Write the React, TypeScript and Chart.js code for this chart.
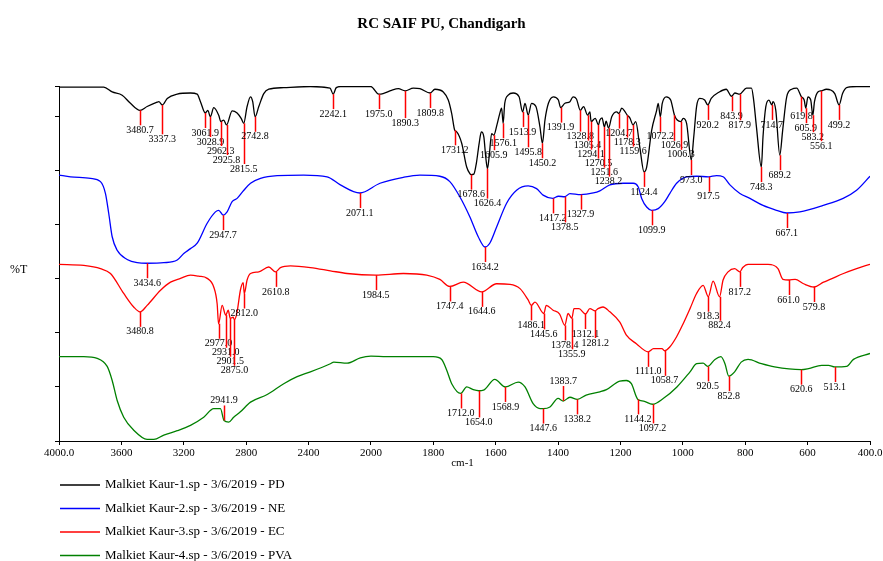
import React, { useEffect, useRef } from 'react';
import { Chart, registerables } from 'chart.js';

Chart.register(...registerables);

const TITLE = 'RC SAIF PU, Chandigarh';
const X_TITLE = 'cm-1';
const Y_TITLE = '%T';

const seriesNames = [
  'Malkiet Kaur-1.sp - 3/6/2019 - PD',
  'Malkiet Kaur-2.sp - 3/6/2019 - NE',
  'Malkiet Kaur-3.sp - 3/6/2019 - EC',
  'Malkiet Kaur-4.sp - 3/6/2019 - PVA',
];
const seriesColors = ['#000000', '#0000ff', '#ff0000', '#008000'];

// [wavenumber cm-1, %T]
const pdSpectrum: [number, number][] = [
  [4000, 65.5], [3713, 65.5], [3659, 64.6], [3595, 64.0], [3542, 62.5], [3480.7, 61.2], [3435, 61.9],
  [3371, 62.7], [3360, 62.8], [3337.3, 62.2], [3306, 63.4], [3242, 64.2], [3157, 64.4], [3114, 64.2],
  [3093, 62.8], [3061.9, 60.7], [3046, 61.2], [3028.9, 60.0], [3008, 61.7], [2976, 60.3], [2962.3, 59.1],
  [2944, 59.4], [2925.8, 58.5], [2890, 61.1], [2858, 60.7], [2832, 59.7], [2815.5, 58.8], [2794, 61.9],
  [2772, 63.7], [2758, 62.8], [2742.8, 60.0], [2719, 61.9], [2687, 64.3], [2655, 65.1], [2559, 65.4],
  [2388, 65.6], [2262, 65.3], [2242.1, 64.2], [2222, 65.4], [2196, 65.6], [2000, 65.6], [1993, 65.3],
  [1975.0, 64.2], [1961, 64.3], [1934, 64.9], [1912, 65.2], [1890.3, 64.8], [1864, 65.3], [1843, 65.2],
  [1809.8, 64.4], [1795, 65.1], [1768, 64.6], [1752, 63.1], [1741, 60.6], [1731.2, 57.5], [1725, 57.2],
  [1709, 55.1], [1693, 50.7], [1683, 49.5], [1678.6, 49.3], [1670, 49.4], [1662, 51.4], [1653, 55.1],
  [1646, 57.2], [1638, 56.3], [1632, 52.6], [1626.4, 50.4], [1621, 52.6], [1613, 56.9], [1605.9, 56.6],
  [1596, 58.5], [1587, 60.6], [1581, 61.6], [1576.1, 58.8], [1571, 62.5], [1560, 64.0], [1544, 64.4],
  [1525, 63.7], [1513.9, 60.9], [1506, 62.5], [1495.8, 60.3], [1485, 62.5], [1471, 61.9], [1458, 58.1],
  [1450.2, 55.1], [1442, 59.4], [1431, 62.5], [1415, 63.7], [1399, 63.1], [1391.9, 61.7], [1378, 62.5],
  [1362, 62.8], [1352, 63.7], [1341, 63.3], [1328.8, 61.2], [1318, 61.9], [1305.4, 60.3], [1298, 60.9],
  [1294.1, 59.1], [1281, 59.7], [1270.5, 58.5], [1266, 59.4], [1259, 59.8], [1251.6, 58.1], [1246, 59.2],
  [1238.2, 57.9], [1228, 60.0], [1212, 60.9], [1204.7, 60.6], [1196, 61.6], [1185, 60.9], [1178.3, 60.3],
  [1170, 59.8], [1159.6, 58.5], [1151, 59.1], [1138, 54.4], [1124.4, 49.8], [1116, 50.7], [1100, 57.5],
  [1084, 61.2], [1079, 62.5], [1072.2, 60.0], [1066, 62.5], [1053, 63.7], [1039, 63.1], [1026.9, 60.3],
  [1018, 59.4], [1006.3, 59.1], [999, 59.7], [988, 58.8], [973.0, 52.0], [965, 56.3], [956, 61.9],
  [946, 63.4], [930, 63.1], [920.2, 62.2], [909, 63.4], [883, 64.6], [861, 65.1], [843.9, 63.8],
  [833, 64.4], [817.9, 64.2], [796, 65.3], [780, 65.3], [773, 63.1], [764, 58.1], [748.3, 50.7],
  [743, 56.3], [734, 61.9], [724, 63.1], [714.7, 62.2], [711, 62.8], [702, 61.2], [689.2, 52.9],
  [680, 57.5], [667, 63.7], [651, 65.1], [635, 65.3], [619.8, 63.7], [611, 63.1], [605.9, 61.6],
  [599, 63.7], [590, 63.1], [583.2, 60.3], [578, 62.8], [567, 64.6], [556.1, 64.8], [540, 65.1],
  [513, 64.3], [499.2, 62.2], [488, 64.3], [475, 65.4], [443, 65.6], [400, 65.6],
];

const neSpectrum: [number, number][] = [
  [4000, 49.2], [3926, 48.9], [3798, 48.6], [3734, 48.0], [3702, 45.8], [3681, 42.1], [3659, 37.8],
  [3627, 35.3], [3563, 33.6], [3499, 33.0], [3434.6, 32.9], [3328, 33.0], [3242, 33.5], [3200, 34.7],
  [3157, 35.6], [3114, 36.6], [3050, 40.3], [2997, 42.4], [2976, 42.7], [2947.7, 41.8], [2922, 42.4],
  [2890, 44.3], [2858, 44.9], [2815, 46.4], [2772, 47.7], [2708, 48.6], [2601, 49.1], [2431, 49.2],
  [2281, 48.9], [2196, 47.4], [2071.1, 45.9], [1971, 47.7], [1896, 48.8], [1843, 49.2], [1779, 49.0],
  [1747, 48.0], [1715, 45.2], [1683, 41.5], [1656, 37.8], [1634.2, 35.9], [1619, 36.6], [1597, 39.6],
  [1565, 44.0], [1533, 46.4], [1496, 47.2], [1469, 46.7], [1448, 45.5], [1417.2, 44.9], [1399, 45.3],
  [1378.5, 45.2], [1362, 45.8], [1327.9, 45.6], [1287, 45.9], [1266, 46.3], [1234, 47.4], [1191, 47.7],
  [1159, 47.7], [1143, 47.0], [1132, 44.9], [1116, 43.3], [1099.9, 42.7], [1079, 43.0], [1058, 44.3],
  [1042, 45.8], [1020, 47.7], [988, 48.9], [956, 49.0], [917.5, 48.9], [892, 49.1], [871, 48.9],
  [849, 47.4], [817, 45.8], [785, 44.9], [743, 43.6], [700, 42.7], [667.1, 42.2], [625, 42.4],
  [550, 43.6], [486, 44.9], [443, 46.4], [400, 49.0],
];

const ecSpectrum: [number, number][] = [
  [4000, 32.7], [3841, 32.5], [3734, 31.9], [3670, 31.0], [3585, 27.3], [3521, 24.8], [3480.8, 23.9],
  [3435, 25.1], [3349, 27.9], [3285, 29.4], [3221, 30.1], [3157, 30.7], [3104, 30.5], [3050, 30.1],
  [3008, 28.5], [2986, 25.4], [2977.0, 21.7], [2954, 25.1], [2931.0, 23.3], [2915, 24.2], [2901.5, 22.7],
  [2883, 22.9], [2875.0, 22.4], [2858, 23.9], [2837, 27.9], [2819, 29.3], [2812.0, 27.3], [2794, 29.8],
  [2772, 31.0], [2719, 31.3], [2655, 32.2], [2610.8, 31.3], [2580, 32.1], [2516, 32.4], [2388, 32.1],
  [2260, 31.5], [2153, 31.0], [1984.5, 30.7], [1896, 31.0], [1821, 30.7], [1779, 29.9], [1747.4, 28.6],
  [1704, 29.4], [1644.6, 27.6], [1597, 29.1], [1554, 29.0], [1522, 28.2], [1496, 26.1], [1486.1, 25.1],
  [1474, 25.7], [1445.6, 23.6], [1438, 25.1], [1416, 24.2], [1395, 23.5], [1378.4, 21.4], [1368, 23.6],
  [1355.9, 22.7], [1349, 24.5], [1333, 24.5], [1312.1, 23.5], [1298, 24.5], [1281.2, 24.1], [1272, 24.5],
  [1256, 24.8], [1234, 23.9], [1202, 22.0], [1181, 19.6], [1149, 18.0], [1111.0, 16.5], [1094, 17.1],
  [1067, 17.1], [1058.7, 16.7], [1042, 17.4], [1020, 19.3], [999, 21.7], [977, 24.5], [956, 27.3],
  [935, 28.8], [918.3, 26.7], [903, 29.6], [882.4, 26.7], [871, 29.8], [855, 31.3], [834, 31.9],
  [817.2, 31.3], [808, 32.1], [791, 32.7], [727, 32.7], [695, 31.9], [679, 29.9], [661.0, 29.8],
  [640, 29.9], [613, 29.1], [579.8, 28.5], [549, 29.4], [528, 29.9], [485, 31.0], [443, 31.9], [400, 32.7],
];

const pvaSpectrum: [number, number][] = [
  [4000, 15.6], [3841, 15.6], [3755, 15.3], [3691, 13.8], [3659, 11.2], [3627, 7.5], [3585, 4.4],
  [3521, 2.0], [3435, 0.3], [3392, 0.3], [3328, 1.1], [3242, 1.9], [3157, 2.9], [3072, 4.4], [3008, 6.0],
  [2965, 6.0], [2941.9, 3.8], [2912, 3.5], [2880, 4.4], [2837, 5.4], [2772, 7.2], [2665, 8.6],
  [2559, 10.6], [2473, 11.9], [2388, 12.8], [2260, 14.3], [2238, 14.6], [2153, 14.4], [2068, 15.4],
  [2000, 15.7], [1950, 15.6], [1875, 15.6], [1800, 15.6], [1773, 15.1], [1757, 13.1], [1741, 10.6],
  [1712.0, 8.8], [1693, 10.0], [1672, 9.5], [1654.0, 9.3], [1639, 9.4], [1603, 11.4], [1568.9, 10.0],
  [1528, 10.9], [1506, 10.0], [1480, 6.9], [1458, 6.0], [1447.6, 6.0], [1426, 6.3], [1400, 7.9],
  [1383.7, 7.4], [1362, 8.1], [1338.2, 7.7], [1310, 8.5], [1266, 9.1], [1245, 9.5], [1202, 11.1],
  [1181, 11.2], [1165, 10.6], [1144.2, 7.7], [1126, 7.4], [1097.2, 6.8], [1062, 7.9], [1019, 10.0],
  [977, 12.8], [956, 14.3], [935, 14.4], [920.5, 13.8], [897, 15.1], [878, 15.6], [865, 14.3],
  [852.8, 12.0], [834, 12.8], [813, 14.6], [791, 15.1], [748, 14.3], [706, 13.7], [620.6, 13.2],
  [597, 13.4], [555, 14.0], [533, 14.0], [513.1, 13.7], [475, 13.8], [453, 15.1], [400, 16.2],
];

const pdPeaks = [
  3480.7, 3337.3, 3061.9, 3028.9, 2962.3, 2925.8, 2815.5, 2742.8, 2242.1, 1975.0, 1890.3, 1809.8,
  1731.2, 1678.6, 1626.4, 1605.9, 1576.1, 1513.9, 1495.8, 1450.2, 1391.9, 1328.8, 1305.4, 1294.1,
  1270.5, 1251.6, 1238.2, 1204.7, 1178.3, 1159.6, 1124.4, 1072.2, 1026.9, 1006.3, 973.0, 920.2,
  843.9, 817.9, 748.3, 714.7, 689.2, 619.8, 605.9, 583.2, 556.1, 499.2,
];
const nePeaks = [3434.6, 2947.7, 2071.1, 1634.2, 1417.2, 1378.5, 1327.9, 1099.9, 917.5, 667.1];
const ecPeaks = [
  3480.8, 2977.0, 2931.0, 2901.5, 2875.0, 2812.0, 2610.8, 1984.5, 1747.4, 1644.6, 1486.1, 1445.6,
  1378.4, 1355.9, 1312.1, 1281.2, 1111.0, 1058.7, 918.3, 882.4, 817.2, 661.0, 579.8,
];
const pvaPeaks = [2941.9, 1712.0, 1654.0, 1568.9, 1447.6, 1383.7, 1338.2, 1144.2, 1097.2, 920.5, 852.8, 620.6, 513.1];

const spectra = [pdSpectrum, neSpectrum, ecSpectrum, pvaSpectrum];
const peakSets = [pdPeaks, nePeaks, ecPeaks, pvaPeaks];

// The wavenumber axis is compressed 2:1 above 2000 cm-1 (as on the instrument plot)
const BREAK = 2000;
const toAxis = (w: number) => (w > BREAK ? BREAK + (w - BREAK) / 2 : w);
const fromAxis = (u: number) => (u > BREAK ? BREAK + (u - BREAK) * 2 : u);

const SERIF = '"Liberation Serif", "Times New Roman", serif';

const peakPlugin = {
  id: 'peakLabels',
  afterDatasetsDraw(chart: any) {
    const { ctx, chartArea, scales } = chart;
    const xs = scales.x;
    ctx.save();
    ctx.font = `10px ${SERIF}`;
    chart.data.datasets.forEach((_ds: any, di: number) => {
      const peaks = peakSets[di];
      const meta = chart.getDatasetMeta(di);
      const pts = meta.data.map((p: any) => ({ x: p.x, y: p.y }));
      const curveY = (px: number) => {
        for (let i = 0; i < pts.length - 1; i++) {
          const a = pts[i];
          const b = pts[i + 1];
          if (px >= a.x && px <= b.x) {
            const t = b.x === a.x ? 0 : (px - a.x) / (b.x - a.x);
            return a.y + t * (b.y - a.y);
          }
        }
        return pts[pts.length - 1].y;
      };
      const placed: { x0: number; x1: number; c: number }[] = [];
      const sorted = [...peaks].sort((a, b) => b - a);
      const H = 9;
      for (const w of sorted) {
        const px = xs.getPixelForValue(toAxis(w));
        const cy = curveY(px);
        const text = w.toFixed(1);
        const tw = ctx.measureText(text).width;
        const x0 = px - tw / 2;
        const x1 = px + tw / 2;
        const c0 = cy + 20;
        const overl = placed.filter((r) => r.x0 < x1 && r.x1 > x0);
        const free = (c: number) => overl.every((r) => Math.abs(r.c - c) >= H - 0.01);
        const cands = [c0, ...overl.map((r) => r.c + H).filter((c) => c > c0)].sort((a, b) => a - b);
        let c = cands.find((v) => free(v));
        if (c === undefined) c = c0;
        let above = false;
        if (c + 5 > chartArea.bottom) {
          above = true;
          c = cy - 20;
        }
        placed.push({ x0, x1, c });
        const lx = Math.round(px) + 0.5;
        ctx.strokeStyle = '#ff0000';
        ctx.lineWidth = 1.5;
        ctx.beginPath();
        ctx.moveTo(lx, cy);
        ctx.lineTo(lx, above ? c + 5 : c - 5);
        ctx.stroke();
        ctx.fillStyle = '#000';
        ctx.textAlign = 'center';
        ctx.textBaseline = 'middle';
        ctx.fillText(text, px, c);
      }
    });
    ctx.restore();
  },
};

const decoPlugin = {
  id: 'decorations',
  afterDraw(chart: any) {
    const { ctx, chartArea } = chart;
    ctx.save();
    ctx.fillStyle = '#000';
    ctx.textBaseline = 'middle';
    // title
    ctx.font = `bold 15px ${SERIF}`;
    ctx.textAlign = 'center';
    ctx.fillText(TITLE, chart.width / 2, 24);
    // axis titles
    ctx.font = `11px ${SERIF}`;
    ctx.fillText(X_TITLE, (chartArea.left + chartArea.right) / 2 - 2, 463);
    ctx.font = `12px ${SERIF}`;
    ctx.textAlign = 'left';
    ctx.fillText(Y_TITLE, 10, (chartArea.top + chartArea.bottom) / 2 + 6);
    // legend
    ctx.font = `13px ${SERIF}`;
    chart.data.datasets.forEach((ds: any, i: number) => {
      const y = 485 + i * 23.5;
      ctx.strokeStyle = ds.borderColor;
      ctx.lineWidth = 1.5;
      ctx.beginPath();
      ctx.moveTo(60, y);
      ctx.lineTo(100, y);
      ctx.stroke();
      ctx.fillText(ds.label, 105, y);
    });
    ctx.restore();
  },
};

export default function App() {
  const ref = useRef<HTMLCanvasElement>(null);
  useEffect(() => {
    const canvas = ref.current;
    if (!canvas) return;
    const chart = new Chart(canvas, {
      type: 'line',
      data: {
        datasets: spectra.map((s, i) => ({
          label: seriesNames[i],
          data: s.map(([w, t]) => ({ x: toAxis(w), y: t })),
          borderColor: seriesColors[i],
          backgroundColor: seriesColors[i],
          borderWidth: 1.3,
          pointRadius: 0,
          cubicInterpolationMode: 'monotone',
          fill: false,
        })),
      },
      options: {
        responsive: false,
        animation: false,
        devicePixelRatio: 1,
        layout: { padding: { top: 86, right: 13, left: 0, bottom: 0 } },
        plugins: {
          legend: { display: false },
          title: { display: false },
          tooltip: { enabled: false },
        },
        scales: {
          x: {
            type: 'linear',
            min: 400,
            max: 3000,
            reverse: true,
            border: { display: true, color: '#000', width: 1 },
            grid: { display: true, drawOnChartArea: false, drawTicks: true, tickLength: 4, color: '#000' },
            ticks: {
              stepSize: 200,
              autoSkip: false,
              maxRotation: 0,
              padding: 2,
              color: '#000',
              font: { family: SERIF, size: 11 },
              callback: (v: any) => {
                const w = Math.round(fromAxis(Number(v)));
                if (w === 4000 || w === 400) return w.toFixed(1);
                return String(w);
              },
            },
            afterFit: (s: any) => {
              s.height = 120;
              s.paddingLeft = 0;
              s.paddingRight = 0;
            },
          },
          y: {
            type: 'linear',
            min: 0,
            max: 65.7,
            border: { display: true, color: '#000', width: 1 },
            grid: { display: true, drawOnChartArea: false, drawTicks: true, tickLength: 4, color: '#000' },
            ticks: { display: false, stepSize: 10 },
            afterFit: (s: any) => {
              s.width = 59;
              s.paddingTop = 0;
              s.paddingBottom = 0;
            },
          },
        },
      } as any,
      plugins: [peakPlugin, decoPlugin],
    });
    return () => chart.destroy();
  }, []);
  return (
    <div style={{ position: 'fixed', left: 0, top: 0, width: 883, height: 561, background: '#fff' }}>
      <canvas ref={ref} width={883} height={561} style={{ display: 'block', width: 883, height: 561 }} />
    </div>
  );
}
